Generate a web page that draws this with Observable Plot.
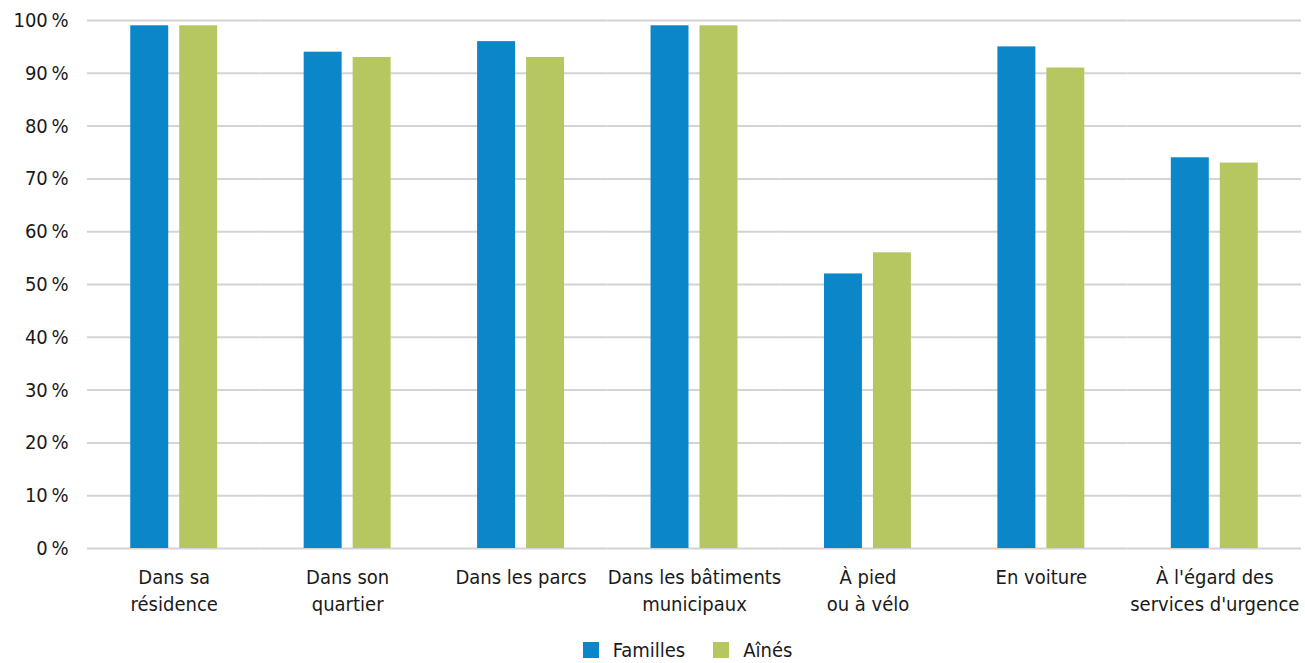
<!DOCTYPE html>
<html><head><meta charset="utf-8">
<script src="https://cdn.jsdelivr.net/npm/d3@7"></script>
<script src="https://cdn.jsdelivr.net/npm/@observablehq/plot@0.6"></script>
<style>
body{margin:0;background:#fff;font-family:"Liberation Sans Narrow","DejaVu Sans Condensed",sans-serif;color:#1a1a1a;overflow:hidden;}
#legend{display:flex;justify-content:center;align-items:center;height:50px;margin-left:70px;font-size:20px;}
#legend .item{display:flex;align-items:center;margin:0 14px;}
#legend .sw{width:16px;height:16px;margin-right:14px;}
</style></head><body><div id="chart"></div><div id="legend"></div>
<script>
const categories = ["Dans sa résidence","Dans son quartier","Dans les parcs","Dans les bâtiments municipaux","À pied ou à vélo","En voiture","À l'égard des services d'urgence"];
const categoryLabels = ["Dans sa\nrésidence","Dans son\nquartier","Dans les parcs","Dans les bâtiments\nmunicipaux","À pied\nou à vélo","En voiture","À l'égard des\nservices d'urgence"];
const series = ["Familles","Aînés"];
const familles = [99,94,96,99,52,95,74];
const aines = [99,93,93,99,56,91,73];
const colors = ["#0b87c9","#b6c762"];
const yTicks = [0,10,20,30,40,50,60,70,80,90,100];

const data = categories.flatMap((c,i)=>[
  {cat:c, serie:series[0], value:familles[i]},
  {cat:c, serie:series[1], value:aines[i]}
]);
const labelData = categories.map((c,i)=>({cat:c, label:categoryLabels[i]}));

const plot = Plot.plot({
  width:1305, height:625, marginTop:20, marginBottom:77, marginLeft:87, marginRight:4,
  style:{fontFamily:'"Liberation Sans Narrow","DejaVu Sans Condensed",sans-serif', fontSize:"20px", color:"#1a1a1a", background:"#fff", overflow:"visible"},
  fx:{domain:categories, padding:0, round:false, label:null, axis:null},
  x:{domain:series, axis:null, round:false, paddingInner:0.2245, paddingOuter:0.883},
  y:{domain:[0,100], ticks:yTicks, label:null, axis:null},
  color:{domain:series, range:colors},
  marks:[
    Plot.gridY(yTicks,{stroke:"#d4d4d4", strokeOpacity:1, strokeWidth:2}),
    Plot.axisY(yTicks,{tickSize:0, tickPadding:19, tickFormat:d=>d+"\u202F%", fontSize:20, label:null}),
    Plot.barY(data,{fx:"cat", x:"serie", y:"value", fill:"serie"}),
    Plot.text(labelData,{fx:"cat", text:"label", frameAnchor:"bottom", lineAnchor:"top", dy:16, fontSize:20, lineHeight:1.35, fill:"#1a1a1a"})
  ]
});
document.getElementById("chart").appendChild(plot);

const legend = document.getElementById("legend");
series.forEach((s,i)=>{
  const it=document.createElement("div"); it.className="item";
  const sw=document.createElement("span"); sw.className="sw"; sw.style.background=colors[i];
  const t=document.createElement("span"); t.textContent=s;
  it.appendChild(sw); it.appendChild(t); legend.appendChild(it);
});
</script></body></html>
